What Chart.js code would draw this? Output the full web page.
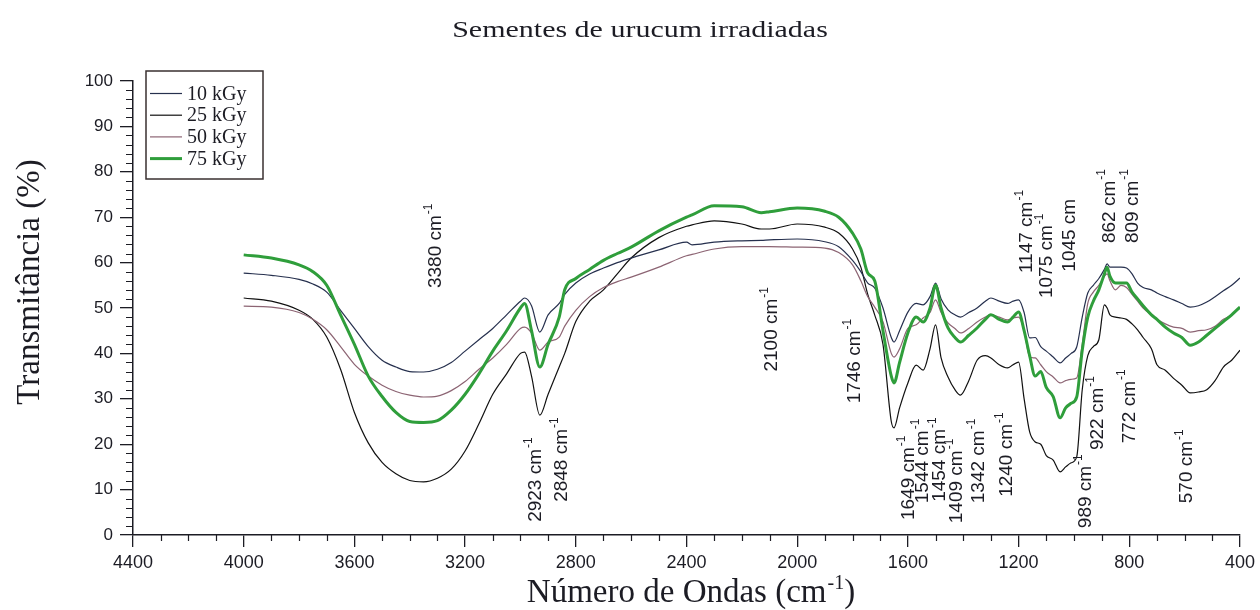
<!DOCTYPE html>
<html>
<head>
<meta charset="utf-8">
<script src="https://cdn.jsdelivr.net/npm/chart.js@4.4.1/dist/chart.umd.min.js"></script>
<style>
  html, body { margin: 0; padding: 0; background: #fff; }
  #wrap { width: 1260px; height: 610px; }
</style>
</head>
<body>
<div id="wrap"><canvas id="ftir" width="1260" height="610"></canvas></div>
<script>
// wavenumbers (cm-1), shared by all four spectra
const wavenumbers = [
  4000, 3900, 3800, 3750, 3700, 3650, 3600, 3550, 3500, 3450,
  3400, 3350, 3300, 3250, 3200, 3150, 3100, 3050, 3000, 2985,
  2960, 2930, 2900, 2860, 2840, 2800, 2750, 2700, 2650, 2600,
  2500, 2400, 2380, 2300, 2200, 2130, 2100, 2000, 1900, 1850,
  1800, 1770, 1745, 1720, 1690, 1660, 1650, 1630, 1600, 1570,
  1545, 1520, 1500, 1480, 1455, 1430, 1410, 1380, 1350, 1320,
  1300, 1270, 1240, 1220, 1200, 1180, 1160, 1140, 1120, 1100,
  1075, 1050, 1030, 1010, 990, 970, 950, 930, 910, 890,
  880, 870, 850, 830, 810, 790, 770, 750, 720, 700,
  670, 640, 610, 580, 550, 520, 490, 460, 430, 400
];

const t10kGy = [
  57.7, 57.2, 56.3, 55.3, 53.5, 49.5, 45.5, 41.5, 38.5, 37.0,
  36.0, 35.9, 36.5, 38.0, 40.5, 43.0, 45.5, 48.5, 51.5, 52.2,
  50.5, 44.7, 48.5, 51.0, 53.0, 55.5, 57.5, 58.8, 60.0, 61.0,
  62.8, 64.5, 63.9, 64.5, 64.8, 64.9, 65.0, 65.2, 64.6, 63.5,
  60.5, 58.0, 55.5, 54.4, 50.0, 43.5, 42.5, 45.0, 49.1, 51.0,
  50.7, 52.5, 55.5, 52.0, 49.6, 48.5, 48.0, 49.0, 50.0, 51.5,
  52.2, 51.5, 51.0, 51.5, 51.8, 49.0, 43.4, 43.5, 41.5, 40.5,
  39.2, 37.9, 39.0, 40.0, 41.4, 48.0, 53.3, 55.0, 56.5, 58.5,
  59.7, 59.0, 59.0, 59.0, 58.8, 57.5, 55.5, 54.5, 54.0, 53.3,
  52.5, 51.8, 51.0, 50.2, 50.5, 51.3, 52.5, 53.8, 55.0, 56.6
];

const t25kGy = [
  52.2, 51.5, 49.5, 47.5, 43.6, 36.5, 27.0, 20.3, 16.0, 13.5,
  12.0, 11.7, 12.5, 14.5, 18.5, 24.5, 31.0, 35.5, 40.0, 40.3,
  35.0, 26.4, 31.0, 37.0, 40.0, 47.0, 51.5, 54.0, 57.5, 61.0,
  65.5, 68.0, 68.3, 69.2, 68.5, 67.4, 67.4, 68.5, 67.8, 66.5,
  63.0, 59.0, 53.0, 48.5, 42.0, 25.0, 23.6, 28.0, 33.5, 37.4,
  36.3, 41.0, 46.3, 39.0, 34.8, 32.0, 30.8, 34.0, 38.5, 39.5,
  39.0, 37.5, 36.8, 37.5, 38.1, 30.0, 22.7, 20.5, 20.0, 17.5,
  16.5, 13.9, 15.0, 15.9, 17.2, 32.0, 39.5, 41.5, 43.0, 50.7,
  50.0, 48.5, 48.0, 47.8, 47.5, 46.5, 45.2, 43.5, 41.0, 37.5,
  36.3, 34.5, 33.0, 31.3, 31.5, 32.0, 34.0, 37.0, 38.5, 40.7
];

const t50kGy = [
  50.4, 50.2, 49.0, 47.5, 45.2, 41.5, 37.6, 35.0, 33.0, 31.6,
  30.8, 30.4, 30.6, 31.8, 33.8, 36.5, 39.0, 42.0, 45.5, 45.8,
  44.5, 40.7, 42.5, 43.6, 46.0, 49.5, 52.5, 54.5, 55.8, 56.8,
  59.0, 61.5, 61.8, 63.0, 63.5, 63.5, 63.5, 63.4, 63.2, 62.2,
  59.5, 56.0, 52.5, 50.2, 47.0, 40.0, 39.2, 41.0, 45.5, 46.3,
  47.8, 49.0, 51.8, 49.0, 46.7, 45.5, 44.5, 45.5, 46.9, 48.0,
  48.5, 48.0, 47.4, 47.8, 48.0, 45.0, 39.2, 39.0, 37.5, 36.0,
  34.8, 33.5, 34.0, 34.3, 34.6, 42.0, 51.0, 53.5, 55.0, 57.0,
  57.5, 56.0, 54.0, 55.0, 54.5, 53.0, 51.5, 50.0, 48.5, 47.5,
  46.5, 45.8, 45.5, 44.7, 45.0, 45.2, 46.0, 47.5, 48.5, 50.2
];

const t75kGy = [
  61.7, 61.0, 59.5, 58.0, 55.0, 48.5, 42.0, 35.0, 30.5, 27.0,
  25.0, 24.8, 25.2, 27.5, 31.0, 35.5, 40.5, 45.0, 50.0, 51.0,
  45.0, 37.0, 42.0, 48.0, 54.0, 56.5, 58.5, 60.5, 62.0, 63.4,
  67.0, 70.0, 70.5, 72.5, 72.3, 71.0, 71.2, 72.0, 71.3, 70.0,
  66.5, 63.0, 57.7, 56.0, 45.0, 35.0, 33.5, 38.0, 44.5, 48.0,
  46.9, 50.0, 55.0, 50.0, 45.6, 43.5, 42.5, 44.0, 45.6, 47.5,
  48.5, 47.5, 46.9, 48.0, 49.1, 45.0, 39.5, 35.0, 36.0, 32.5,
  30.5, 25.8, 28.0, 29.0, 30.4, 40.7, 48.0, 51.5, 54.0, 57.5,
  59.0, 57.0, 55.5, 55.5, 55.5, 53.5, 52.0, 50.5, 48.5, 47.5,
  45.8, 44.5, 43.5, 41.8, 42.5, 44.0, 45.5, 47.0, 48.5, 50.2
];

const seriesNames = ['10 kGy', '25 kGy', '50 kGy', '75 kGy'];
const xTickValues = [4400, 4000, 3600, 3200, 2800, 2400, 2000, 1600, 1200, 800, 400];
const yTickValues = [0, 10, 20, 30, 40, 50, 60, 70, 80, 90, 100];

// band labels: text, superscript, wavenumber and transmittance where the text starts
const peakText = ['3380 cm', '2923 cm', '2848 cm', '2100 cm', '1746 cm', '1649 cm', '1544 cm',
  '1454 cm', '1409 cm', '1342 cm', '1240 cm', '1147 cm', '1075 cm', '1045 cm', '862 cm',
  '809 cm', '989 cm', '922 cm', '772 cm', '570 cm'];
const peakSup = ['-1', '-1', '-1', '-1', '-1', '-1', '-1', '-1', '-1', '-1', '-1', '-1', '-1', '',
  '-1', '-1', '-1', '-1', '-1', '-1'];
const peakX = [3305, 2944, 2849, 2092, 1792, 1596, 1546, 1484, 1423, 1344, 1243, 1171, 1099, 1016,
  872, 789, 958, 915, 800, 591];
const peakY = [54.4, 2.9, 7.3, 36.0, 29.0, 3.3, 7.0, 7.3, 2.6, 7.0, 8.4, 57.7, 52.2, 58.0,
  64.3, 64.3, 1.5, 18.7, 20.2, 7.0];

const SERIF = '"Liberation Serif", "Times New Roman", serif';
const SANS = '"Liberation Sans", Arial, sans-serif';
const INK = '#1c1c24';
const colors = ['#26304e', '#111111', '#8c6473', '#2f9e3b'];
const widths = [1.2, 1.2, 1.2, 3];

const pts = ys => wavenumbers.map((w, i) => ({ x: w, y: ys[i] }));

function textWithSup(ctx, base, sup, x, y, size, family) {
  ctx.font = `${size}px ${family}`;
  ctx.fillText(base, x, y);
  const w = ctx.measureText(base).width;
  if (!sup) return w;
  ctx.font = `${Math.round(size * 0.62)}px ${family}`;
  ctx.fillText(sup, x + w + 1, y - size * 0.38);
  return w + 1 + ctx.measureText(sup).width;
}

function measureSup(ctx, base, sup, size, family) {
  ctx.font = `${size}px ${family}`;
  const w = ctx.measureText(base).width;
  ctx.font = `${Math.round(size * 0.62)}px ${family}`;
  return w + 1 + ctx.measureText(sup).width;
}

const decorations = {
  id: 'decorations',
  afterDraw(chart) {
    const { ctx, chartArea: a, scales: { x, y } } = chart;
    ctx.save();
    ctx.fillStyle = INK;
    ctx.strokeStyle = INK;

    // minor ticks
    ctx.lineWidth = 1.2;
    ctx.beginPath();
    for (let v = 400; v <= 4400; v += 100) {
      if (v % 400 === 0) continue;
      const px = Math.round(x.getPixelForValue(v)) + 0.5;
      ctx.moveTo(px, a.bottom);
      ctx.lineTo(px, a.bottom + 6);
    }
    for (let v = 0; v <= 100; v += 2) {
      if (v % 10 === 0) continue;
      const py = Math.round(y.getPixelForValue(v)) + 0.5;
      ctx.moveTo(a.left, py);
      ctx.lineTo(a.left - 7, py);
    }
    ctx.stroke();

    // title (stretched a little wider, like the original figure)
    ctx.save();
    ctx.translate(640, 37);
    ctx.scale(1.25, 1);
    ctx.textAlign = 'center';
    ctx.textBaseline = 'alphabetic';
    ctx.font = `24px ${SERIF}`;
    ctx.fillText('Sementes de urucum irradiadas', 0, 0);
    ctx.restore();

    // x axis title
    ctx.textAlign = 'left';
    ctx.textBaseline = 'alphabetic';
    const xw = measureSup(ctx, 'Número de Ondas (cm', '-1', 33, SERIF);
    ctx.font = `33px ${SERIF}`;
    const closeW = ctx.measureText(')').width;
    let sx = 691 - (xw + closeW) / 2;
    sx += textWithSup(ctx, 'Número de Ondas (cm', '-1', sx, 602, 33, SERIF);
    ctx.font = `33px ${SERIF}`;
    ctx.fillText(')', sx, 602);

    // y axis title
    ctx.save();
    ctx.translate(30, 282);
    ctx.rotate(-Math.PI / 2);
    ctx.textAlign = 'center';
    ctx.textBaseline = 'middle';
    ctx.font = `33px ${SERIF}`;
    ctx.fillText('Transmitância (%)', 0, 0);
    ctx.restore();

    // band labels
    for (let i = 0; i < peakText.length; i++) {
      ctx.save();
      ctx.translate(x.getPixelForValue(peakX[i]), y.getPixelForValue(peakY[i]));
      ctx.rotate(-Math.PI / 2);
      ctx.textAlign = 'left';
      ctx.textBaseline = 'middle';
      textWithSup(ctx, peakText[i], peakSup[i], 0, 0, 19, SANS);
      ctx.restore();
    }

    // legend
    const lx = a.left + 13, ly = a.top - 10;
    ctx.lineWidth = 1.5;
    ctx.strokeStyle = '#3a3030';
    ctx.strokeRect(lx, ly, 117, 108);
    ctx.textBaseline = 'middle';
    ctx.textAlign = 'left';
    ctx.font = `20px ${SERIF}`;
    seriesNames.forEach((name, i) => {
      const ry = ly + 22.5 + i * 21.7;
      ctx.strokeStyle = colors[i];
      ctx.lineWidth = widths[i];
      ctx.beginPath();
      ctx.moveTo(lx + 4, ry);
      ctx.lineTo(lx + 36, ry);
      ctx.stroke();
      ctx.fillStyle = INK;
      ctx.fillText(name, lx + 41, ry + 1);
    });
    ctx.restore();
  }
};

const seriesData = [t10kGy, t25kGy, t50kGy, t75kGy];
const drawOrder = [1, 3, 2, 0];

new Chart(document.getElementById('ftir'), {
  type: 'line',
  data: {
    datasets: seriesNames.map((name, i) => ({
      label: name,
      data: pts(seriesData[i]),
      borderColor: colors[i],
      borderWidth: widths[i],
      pointRadius: 0,
      fill: false,
      cubicInterpolationMode: 'monotone',
      order: drawOrder[i],
    })),
  },
  options: {
    responsive: false,
    animation: false,
    layout: { padding: { top: 81, right: 17, left: 0, bottom: 0 } },
    plugins: { legend: { display: false }, tooltip: { enabled: false } },
    scales: {
      x: {
        type: 'linear',
        reverse: true,
        min: 400,
        max: 4400,
        afterBuildTicks: s => { s.ticks = xTickValues.map(v => ({ value: v })); },
        afterFit: s => { s.height = 75; },
        grid: { drawOnChartArea: false, drawTicks: true, tickLength: 12, color: INK, lineWidth: 1.3 },
        border: { color: INK, width: 1.5 },
        ticks: { color: INK, padding: 5, maxRotation: 0, autoSkip: false,
          callback: v => String(v), font: { family: SANS, size: 18 } },
      },
      y: {
        min: 0,
        max: 100,
        afterBuildTicks: s => { s.ticks = yTickValues.map(v => ({ value: v })); },
        afterFit: s => { s.width = 133; },
        grid: { drawOnChartArea: false, drawTicks: true, tickLength: 13, color: INK, lineWidth: 1.3 },
        border: { color: INK, width: 1.5 },
        ticks: { color: INK, padding: 7, font: { family: SANS, size: 17 } },
      },
    },
  },
  plugins: [decorations],
});
</script>
</body>
</html>
